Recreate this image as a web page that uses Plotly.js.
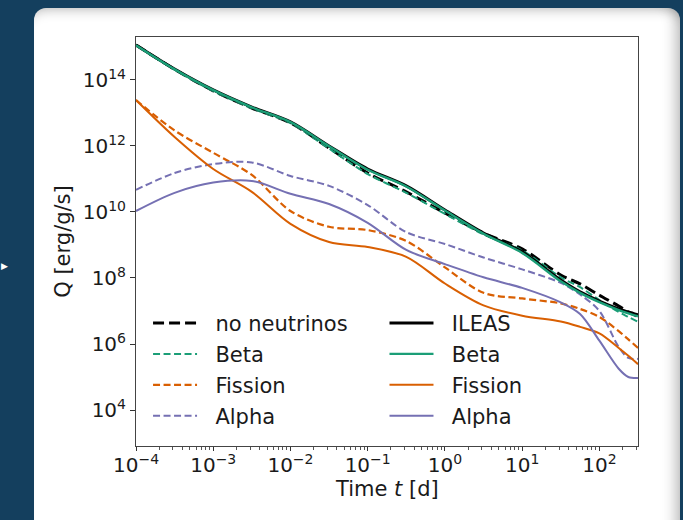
<!DOCTYPE html>
<html><head><meta charset="utf-8">
<script src="https://cdn.plot.ly/plotly-3.0.1.min.js"></script>
<style>
html,body{margin:0;padding:0;width:683px;height:520px;overflow:hidden;background:#143f5e;}
#card{position:absolute;left:34px;top:8px;width:646px;height:540px;background:#fff;border-radius:12px;
 box-shadow: inset -14px 0 14px -10px rgba(0,0,0,0.28), inset 0 12px 12px -10px rgba(0,0,0,0.25);}
#arrow{position:absolute;left:1px;top:261px;color:#fff;font-size:9px;font-family:'DejaVu Sans';}
#chart{position:absolute;left:0;top:0;width:683px;height:520px;}
</style></head>
<body>
<div id="card"></div>
<div id="arrow">▶</div>
<div id="chart"></div>
<script>
// time grid [d]
const time = [1e-4, 3.16e-4, 1e-3, 3.16e-3, 1e-2, 3.16e-2, 0.1, 0.316, 1, 3.16, 10, 31.6, 56.2, 100, 178, 237, 316];

// ILEAS (solid)
const ileasTotal   = [1.15e15, 2.14e14, 5.0e13, 1.51e13, 5.37e12, 1.0e12, 2.0e11, 6.17e10, 1.15e10, 2.29e9, 6.17e8, 8.7e7, 3.8e7, 2.0e7, 1.15e7, 9.3e6, 7.6e6];
const ileasBeta    = [1.12e15, 2.09e14, 4.9e13, 1.48e13, 5.25e12, 9.8e11, 1.9e11, 5.9e10, 1.1e10, 2.19e9, 5.75e8, 7.9e7, 3.55e7, 1.86e7, 1.07e7, 8.5e6, 6.9e6];
const ileasFission = [2.45e13, 1.86e12, 2.0e11, 4.07e10, 4.37e9, 1.23e9, 8.7e8, 4.37e8, 6.8e7, 1.48e7, 7.2e6, 4.8e6, 3.3e6, 2.1e6, 7.6e5, 4.4e5, 2.45e5];
const ileasAlpha   = [1.07e10, 3.8e10, 7.76e10, 8.7e10, 3.55e10, 1.74e10, 4.68e9, 7.08e8, 2.63e8, 1.05e8, 5.0e7, 1.82e7, 8.1e6, 1.26e6, 1.78e5, 1.0e5, 9.3e4];

// no neutrinos (dashed)
const noNuTotal   = [1.15e15, 2.09e14, 4.68e13, 1.41e13, 5.0e12, 8.7e11, 1.51e11, 4.07e10, 9.3e9, 2.29e9, 7.6e8, 1.23e8, 6.6e7, 3.0e7, 1.41e7, 9.3e6, 6.8e6];
const noNuBeta    = [1.12e15, 2.04e14, 4.57e13, 1.38e13, 4.9e12, 8.3e11, 1.41e11, 3.8e10, 8.7e9, 2.09e9, 6.8e8, 1.05e8, 5.25e7, 2.14e7, 9.3e6, 6.6e6, 4.7e6];
const noNuFission = [2.45e13, 2.95e12, 6.2e11, 1.32e11, 1.07e10, 3.55e9, 2.82e9, 1.32e9, 2.09e8, 3.55e7, 2.4e7, 1.7e7, 1.15e7, 6.6e6, 2.45e6, 1.38e6, 7.6e5];
const noNuAlpha   = [4.68e10, 1.51e11, 2.82e11, 3.16e11, 1.23e11, 6.17e10, 1.62e10, 2.45e9, 1.07e9, 4.17e8, 1.82e8, 7.1e7, 3.16e7, 1.0e7, 8.1e5, 3.8e5, 3.55e5];

const xTickVals = [1e-4, 1e-3, 1e-2, 1e-1, 1e0, 1e1, 1e2];
const xTickText = ['10<sup>−4</sup>','10<sup>−3</sup>','10<sup>−2</sup>','10<sup>−1</sup>','10<sup>0</sup>','10<sup>1</sup>','10<sup>2</sup>'];
const yTickVals = [1e4, 1e6, 1e8, 1e10, 1e12, 1e14];
const yTickText = ['10<sup>4</sup>','10<sup>6</sup>','10<sup>8</sup>','10<sup>10</sup>','10<sup>12</sup>','10<sup>14</sup>'];

const cBlack = '#000000', cGreen = '#1b9e77', cOrange = '#d95f02', cPurple = '#7570b3';
const GAP = '\u00a0\u00a0';

function tr(y, name, color, dash, width, legend, grp) {
  return {x: time, y: y, name: GAP + name, type: 'scatter', mode: 'lines',
    line: {color: color, dash: dash, width: width, shape: 'spline', smoothing: 0.9},
    legend: legend, legendgroup: grp, hoverinfo: 'skip'};
}
const DA = '11px,5px', DB = '7px,3.5px';
const data = [
  tr(noNuTotal,   'no neutrinos', cBlack,  DA, 3,   'legend', 'a1'),
  tr(noNuBeta,    'Beta',         cGreen,  DB, 2,   'legend', 'a2'),
  tr(noNuFission, 'Fission',      cOrange, DB, 2.2, 'legend', 'a3'),
  tr(noNuAlpha,   'Alpha',        cPurple, DB, 2,   'legend', 'a4'),
  tr(ileasTotal,  'ILEAS',        cBlack,  'solid', 3,   'legend2', 'b1'),
  tr(ileasBeta,   'Beta',         cGreen,  'solid', 2.4, 'legend2', 'b2'),
  tr(ileasFission,'Fission',      cOrange, 'solid', 2,   'legend2', 'b3'),
  tr(ileasAlpha,  'Alpha',        cPurple, 'solid', 2,   'legend2', 'b4')
];

const F = 'DejaVu Sans, Liberation Sans, sans-serif';
const TC = '#1a1a1a';
const legBase = {bgcolor: 'rgba(0,0,0,0)', font: {family: F, size: 21, color: TC},
  traceorder: 'grouped', tracegroupgap: 0.6, itemwidth: 44, xanchor: 'left', yanchor: 'top'};

const layout = {
  width: 683, height: 520,
  margin: {l: 136, r: 45, t: 37, b: 74, pad: 0},
  paper_bgcolor: 'rgba(0,0,0,0)', plot_bgcolor: '#ffffff',
  font: {family: F, size: 20, color: TC},
  showlegend: true,
  xaxis: {type: 'log', range: [-4, 2.5], tickmode: 'array', tickvals: xTickVals, ticktext: xTickText,
    ticks: 'outside', ticklen: 4, tickwidth: 1, tickcolor: '#333', showgrid: false, zeroline: false,
    showline: true, linecolor: '#444', linewidth: 1, mirror: true, ticklabelstandoff: -3,
    minor: {ticks: 'outside', ticklen: 2.5, tickcolor: '#555', dtick: 'D1', showgrid: false},
    tickfont: {family: F, size: 20, color: TC}},
  yaxis: {type: 'log', range: [2.91, 15.3], tickmode: 'array', tickvals: yTickVals, ticktext: yTickText,
    ticks: 'outside', ticklen: 5, tickwidth: 1, tickcolor: '#333', showgrid: false, zeroline: false,
    showline: true, linecolor: '#444', linewidth: 1, mirror: true,
    tickfont: {family: F, size: 20, color: TC},
    title: {text: 'Q [erg/g/s]', font: {family: F, size: 21, color: TC}, standoff: 6}},
  annotations: [{text: 'Time <i>t</i> [d]', xref: 'paper', yref: 'paper', x: 0.5, y: -0.104,
    xanchor: 'center', yanchor: 'middle', showarrow: false, font: {family: F, size: 21, color: TC}}],
  legend: Object.assign({}, legBase, {x: 0.024, y: 0.35}),
  legend2: Object.assign({}, legBase, {x: 0.495, y: 0.35})
};

Plotly.newPlot('chart', data, layout, {displayModeBar: false, staticPlot: true});
</script>
</body></html>
